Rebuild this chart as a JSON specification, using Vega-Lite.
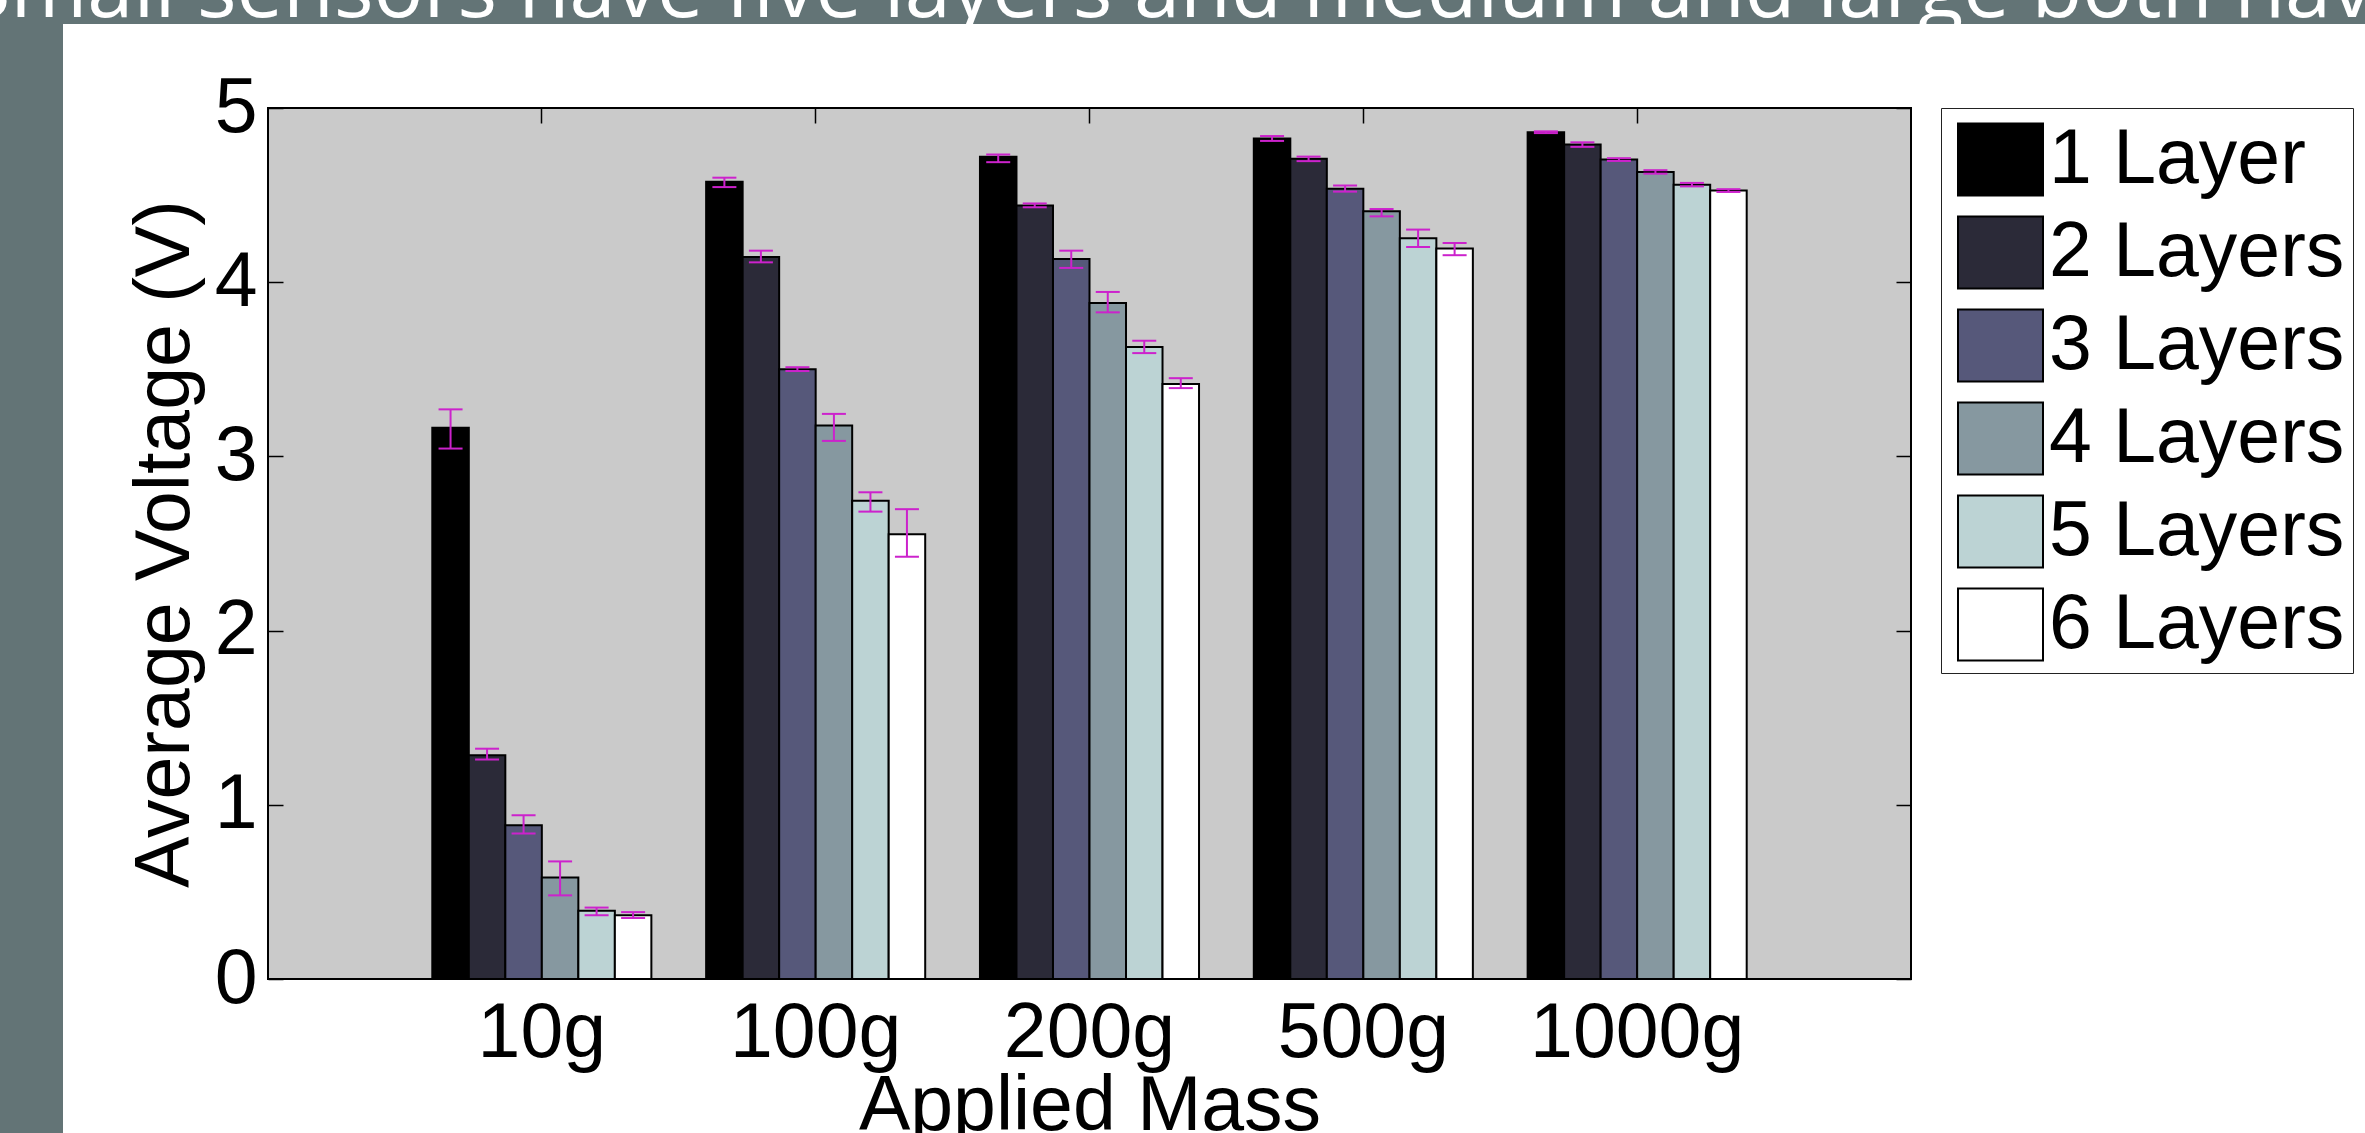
{
  "$schema": "https://vega.github.io/schema/vega-lite/v6.json",
  "autosize": {"type": "none"},
  "padding": {"left": 0, "top": 0, "right": 2365, "bottom": 1133},
  "background": "#ffffff",
  "bounds": "flush",
  "spacing": 0,
  "config": {
    "font": "Liberation Sans",
    "view": {"stroke": null}
  },
  "vconcat": [
    {
      "width": 2365,
      "height": 24,
      "view": {"fill": "#637476", "stroke": null},
      "data": {"values": [{"headline": "Small sensors have five layers and medium and large both have six layers"}]},
      "mark": {
        "type": "text",
        "align": "left",
        "baseline": "alphabetic",
        "dx": -1217.5,
        "dy": 4.5,
        "font": "Open Sans",
        "fontSize": 83,
        "fontWeight": "normal",
        "color": "#ffffff",
        "clip": true
      },
      "encoding": {"text": {"field": "headline", "type": "nominal"}}
    },
    {
      "bounds": "flush",
      "spacing": 205,
      "hconcat": [
        {
          "width": 63,
          "height": 1109,
          "view": {"fill": "#637476", "stroke": null},
          "data": {"values": []},
          "mark": "rect",
          "encoding": {}
        },
        {
          "bounds": "flush",
          "spacing": 0,
          "vconcat": [
            {
              "width": 1643,
              "height": 84,
              "view": {"fill": null, "stroke": null},
              "data": {"values": []},
              "mark": "rect",
              "encoding": {}
            },
            {
              "width": 1643,
              "height": 871,
              "view": {"fill": "#cacaca", "stroke": "#000000", "strokeWidth": 2},
              "data": {
                "values": [
                  {"mass": "10g", "layer": "1 Layer", "v": 3.165, "lo": 3.045, "hi": 3.27},
                  {"mass": "10g", "layer": "2 Layers", "v": 1.285, "lo": 1.26, "hi": 1.322},
                  {"mass": "10g", "layer": "3 Layers", "v": 0.882, "lo": 0.835, "hi": 0.94},
                  {"mass": "10g", "layer": "4 Layers", "v": 0.582, "lo": 0.48, "hi": 0.675},
                  {"mass": "10g", "layer": "5 Layers", "v": 0.392, "lo": 0.366, "hi": 0.41},
                  {"mass": "10g", "layer": "6 Layers", "v": 0.366, "lo": 0.35, "hi": 0.384},
                  {"mass": "100g", "layer": "1 Layer", "v": 4.576, "lo": 4.546, "hi": 4.6},
                  {"mass": "100g", "layer": "2 Layers", "v": 4.145, "lo": 4.114, "hi": 4.181},
                  {"mass": "100g", "layer": "3 Layers", "v": 3.501, "lo": 3.49, "hi": 3.512},
                  {"mass": "100g", "layer": "4 Layers", "v": 3.177, "lo": 3.089, "hi": 3.244},
                  {"mass": "100g", "layer": "5 Layers", "v": 2.746, "lo": 2.683, "hi": 2.794},
                  {"mass": "100g", "layer": "6 Layers", "v": 2.553, "lo": 2.424, "hi": 2.697},
                  {"mass": "200g", "layer": "1 Layer", "v": 4.72, "lo": 4.689, "hi": 4.733},
                  {"mass": "200g", "layer": "2 Layers", "v": 4.441, "lo": 4.43, "hi": 4.452},
                  {"mass": "200g", "layer": "3 Layers", "v": 4.133, "lo": 4.082, "hi": 4.181},
                  {"mass": "200g", "layer": "4 Layers", "v": 3.88, "lo": 3.827, "hi": 3.944},
                  {"mass": "200g", "layer": "5 Layers", "v": 3.628, "lo": 3.593, "hi": 3.664},
                  {"mass": "200g", "layer": "6 Layers", "v": 3.415, "lo": 3.392, "hi": 3.449},
                  {"mass": "500g", "layer": "1 Layer", "v": 4.825, "lo": 4.811, "hi": 4.839},
                  {"mass": "500g", "layer": "2 Layers", "v": 4.708, "lo": 4.695, "hi": 4.721},
                  {"mass": "500g", "layer": "3 Layers", "v": 4.537, "lo": 4.52, "hi": 4.555},
                  {"mass": "500g", "layer": "4 Layers", "v": 4.407, "lo": 4.378, "hi": 4.42},
                  {"mass": "500g", "layer": "5 Layers", "v": 4.252, "lo": 4.202, "hi": 4.302},
                  {"mass": "500g", "layer": "6 Layers", "v": 4.193, "lo": 4.155, "hi": 4.225},
                  {"mass": "1000g", "layer": "1 Layer", "v": 4.861, "lo": 4.856, "hi": 4.866},
                  {"mass": "1000g", "layer": "2 Layers", "v": 4.79, "lo": 4.777, "hi": 4.803},
                  {"mass": "1000g", "layer": "3 Layers", "v": 4.704, "lo": 4.696, "hi": 4.712},
                  {"mass": "1000g", "layer": "4 Layers", "v": 4.633, "lo": 4.623, "hi": 4.643},
                  {"mass": "1000g", "layer": "5 Layers", "v": 4.56, "lo": 4.55, "hi": 4.57},
                  {"mass": "1000g", "layer": "6 Layers", "v": 4.526, "lo": 4.518, "hi": 4.534}
                ]
              },
              "resolve": {"axis": {"x": "independent", "y": "independent"}},
              "layer": [
                {
                  "mark": {"type": "bar", "stroke": "#000000", "strokeWidth": 2, "opacity": 1},
                  "encoding": {
                    "x": {
                      "field": "mass", "type": "nominal",
                      "sort": ["10g", "100g", "200g", "500g", "1000g"],
                      "scale": {"paddingInner": 0.2, "paddingOuter": 0.6},
                      "title": "Applied Mass",
                      "axis": {
                        "orient": "bottom", "labelAngle": 0, "labelFontSize": 77, "labelFont": "Liberation Sans",
                        "labelColor": "#000000", "labelPadding": 31, "labelLimit": 0, "labelOverlap": false,
                        "tickSize": -15, "tickColor": "#000000",
                        "tickWidth": 1.5, "domain": false, "titleFontSize": 77, "titleFont": "Liberation Sans",
                        "titleFontWeight": "normal", "titleColor": "#000000", "titlePadding": -3
                      }
                    },
                    "xOffset": {
                      "field": "layer", "type": "nominal",
                      "sort": ["1 Layer", "2 Layers", "3 Layers", "4 Layers", "5 Layers", "6 Layers"],
                      "scale": {"paddingInner": 0, "paddingOuter": 0}
                    },
                    "y": {
                      "field": "v", "type": "quantitative",
                      "scale": {"domain": [0, 5], "nice": false, "zero": true},
                      "title": "Average Voltage (V)",
                      "axis": {
                        "orient": "left", "values": [0, 1, 2, 3, 4, 5], "grid": false, "domain": false,
                        "labelFontSize": 77, "labelFont": "Liberation Sans", "labelColor": "#000000",
                        "labelPadding": 26, "labelOverlap": false, "labelFlush": false,
                        "tickSize": -15, "tickColor": "#000000", "tickWidth": 1.5,
                        "titleFontSize": 77, "titleFont": "Liberation Sans", "titleFontWeight": "normal",
                        "titleColor": "#000000", "titlePadding": 10
                      }
                    },
                    "color": {
                      "field": "layer", "type": "nominal",
                      "sort": ["1 Layer", "2 Layers", "3 Layers", "4 Layers", "5 Layers", "6 Layers"],
                      "scale": {
                        "domain": ["1 Layer", "2 Layers", "3 Layers", "4 Layers", "5 Layers", "6 Layers"],
                        "range": ["#000000", "#2b2a38", "#56587a", "#8698a0", "#bcd3d4", "#ffffff"]
                      },
                      "legend": {
                        "orient": "none", "legendX": 1941, "legendY": 108, "title": null,
                        "padding": 8, "strokeColor": "#222222", "fillColor": "#ffffff",
                        "symbolType": "M-1,-0.847L1,-0.847L1,0.847L-1,0.847Z", "symbolSize": 7225,
                        "symbolStrokeColor": "#000000", "symbolStrokeWidth": 2, "symbolOpacity": 1,
                        "symbolOffset": 8, "labelFontSize": 77, "labelFont": "Liberation Sans",
                        "labelColor": "#000000", "labelOffset": 5, "labelLimit": 1000, "rowPadding": 9
                      }
                    }
                  }
                },
                {
                  "mark": {"type": "rule", "color": "#cc22cc", "strokeWidth": 2},
                  "encoding": {
                    "x": {
                      "field": "mass", "type": "nominal",
                      "sort": ["10g", "100g", "200g", "500g", "1000g"],
                      "axis": {"orient": "top", "labels": false, "title": null, "domain": false,
                               "tickSize": -15, "tickColor": "#000000", "tickWidth": 1.5}
                    },
                    "xOffset": {"field": "layer", "type": "nominal",
                      "sort": ["1 Layer", "2 Layers", "3 Layers", "4 Layers", "5 Layers", "6 Layers"]},
                    "y": {
                      "field": "lo", "type": "quantitative",
                      "axis": {"orient": "right", "values": [0, 1, 2, 3, 4, 5], "labels": false, "title": null,
                               "domain": false, "grid": false, "tickSize": -15, "tickColor": "#000000", "tickWidth": 1.5}
                    },
                    "y2": {"field": "hi"}
                  }
                },
                {
                  "mark": {"type": "tick", "color": "#cc22cc", "thickness": 2, "size": 24, "opacity": 1},
                  "encoding": {
                    "x": {"field": "mass", "type": "nominal", "sort": ["10g", "100g", "200g", "500g", "1000g"], "axis": null},
                    "xOffset": {"field": "layer", "type": "nominal",
                      "sort": ["1 Layer", "2 Layers", "3 Layers", "4 Layers", "5 Layers", "6 Layers"]},
                    "y": {"field": "lo", "type": "quantitative", "axis": null}
                  }
                },
                {
                  "mark": {"type": "tick", "color": "#cc22cc", "thickness": 2, "size": 24, "opacity": 1},
                  "encoding": {
                    "x": {"field": "mass", "type": "nominal", "sort": ["10g", "100g", "200g", "500g", "1000g"], "axis": null},
                    "xOffset": {"field": "layer", "type": "nominal",
                      "sort": ["1 Layer", "2 Layers", "3 Layers", "4 Layers", "5 Layers", "6 Layers"]},
                    "y": {"field": "hi", "type": "quantitative", "axis": null}
                  }
                }
              ]
            }
          ]
        }
      ]
    }
  ]
}
